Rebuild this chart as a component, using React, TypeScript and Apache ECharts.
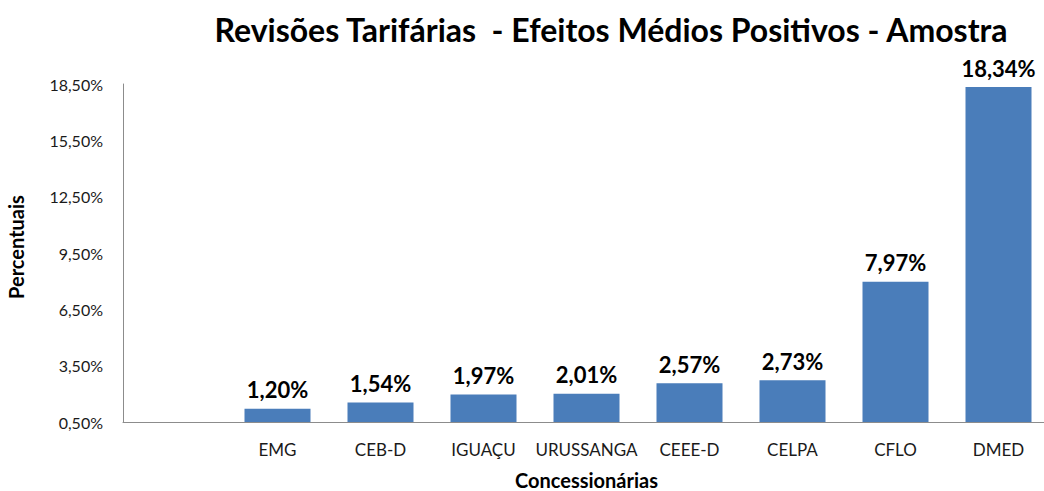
import React, { useEffect, useRef } from "react";
import * as echarts from "echarts";

const categories = ["", "EMG", "CEB-D", "IGUAÇU", "URUSSANGA", "CEEE-D", "CELPA", "CFLO", "DMED"];
const values: (number | null)[] = [null, 1.2, 1.54, 1.97, 2.01, 2.57, 2.73, 7.97, 18.34];
const yMin = 0.5;
const yMax = 18.5;
const yStep = 3;

const fmt = (v: number) => v.toFixed(2).replace(".", ",") + "%";

export default function App() {
  const ref = useRef<HTMLDivElement>(null);
  useEffect(() => {
    if (!ref.current) return;
    const chart = echarts.init(ref.current, null, { renderer: "svg" });
    const font = "Lato, 'Open Sans', sans-serif";
    chart.setOption({
      animation: false,
      backgroundColor: "#ffffff",
      title: {
        text: "Revisões Tarifárias  - Efeitos Médios Positivos - Amostra",
        left: 606,
        textAlign: "center",
        top: 8,
        textStyle: { fontFamily: font, fontSize: 32, fontWeight: "bold", color: "#000" },
      },
      grid: { left: 123, top: 84, bottom: 69, width: 927, containLabel: false, outerBoundsMode: "none" },
      xAxis: {
        type: "category",
        data: categories,
        name: "Concessionárias",
        nameLocation: "middle",
        nameGap: 48,
        nameTextStyle: { fontFamily: font, fontSize: 20, fontWeight: "bold", color: "#000" },
        axisLine: { lineStyle: { color: "#8c8c8c", width: 1 } },
        axisTick: { show: false },
        axisLabel: { fontFamily: font, fontSize: 17, color: "#1a1a1a", margin: 19, interval: 0 },
      },
      yAxis: {
        type: "value",
        min: yMin,
        max: yMax,
        interval: yStep,
        name: "Percentuais",
        nameLocation: "middle",
        nameGap: 97,
        nameRotate: 90,
        nameTextStyle: { fontFamily: font, fontSize: 20, fontWeight: "bold", color: "#000", padding: [0, 0, 0, 12] },
        splitLine: { show: false },
        axisLine: { show: true, lineStyle: { color: "#8c8c8c", width: 1 } },
        axisTick: { show: false },
        axisLabel: { fontFamily: font, fontSize: 16, color: "#1a1a1a", margin: 20, formatter: (v: number) => fmt(v) },
      },
      series: [
        {
          type: "bar",
          data: values,
          barWidth: 66,
          itemStyle: { color: "#4a7dba" },
          label: {
            show: true,
            position: "top",
            distance: 8,
            fontFamily: font,
            fontSize: 22,
            fontWeight: "bold",
            color: "#000",
            formatter: (p: any) => (p.value == null ? "" : fmt(p.value)),
          },
        },
      ],
    });
    return () => chart.dispose();
  }, []);
  return (
    <div
      ref={ref}
      style={{ position: "fixed", left: 0, top: 0, width: 1044, height: 491, background: "#fff" }}
    />
  );
}
